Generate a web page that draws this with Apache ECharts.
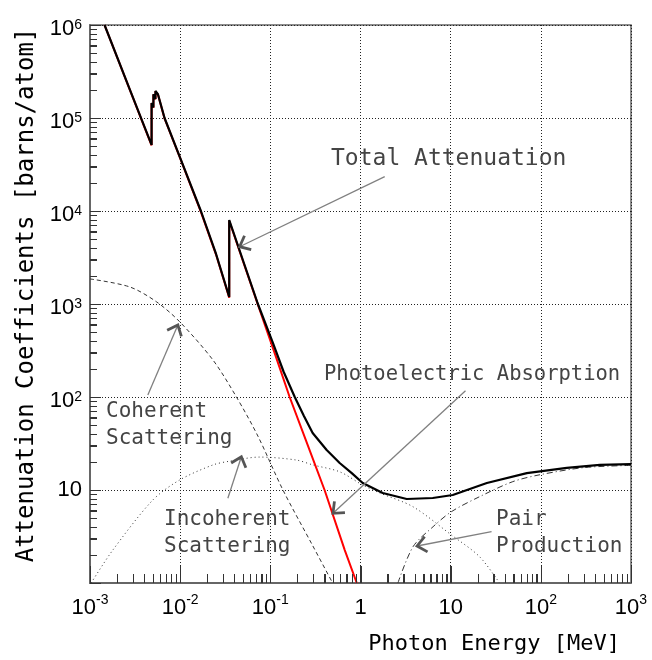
<!DOCTYPE html>
<html><head><meta charset="utf-8">
<script src="https://cdn.jsdelivr.net/npm/echarts@6/dist/echarts.min.js"></script>
<style>html,body{margin:0;padding:0;background:#fff}#c{width:652px;height:660px}</style>
</head><body><div id="c"></div>
<script>
// ---- data (photon energy in MeV, coefficient in barns/atom) ----
const totalEnergy = [0.00145, 0.00274, 0.00482, 0.00482, 0.00505, 0.00505, 0.00532, 0.00532, 0.00567, 0.00671, 0.01, 0.01698, 0.025, 0.035, 0.035, 0.05, 0.0728, 0.106, 0.14, 0.186, 0.235, 0.2947, 0.4215, 0.5875, 0.8, 1.058, 1.764, 3.257, 6.33, 10.55, 25.2, 69.9, 194, 452, 1000];
const totalValue  = [1e6, 2.07e5, 5.13e4, 1.45e5, 1.3e5, 1.8e5, 1.6e5, 1.95e5, 1.8e5, 1.0e5, 3.73e4, 1.0e4, 3.45e3, 1.19e3, 8.0e3, 2.9e3, 1.0e3, 390, 188, 100.7, 63, 41.0, 26.9, 19.5, 15.2, 11.9, 9.29, 8.0, 8.2, 8.83, 11.9, 15.2, 17.3, 18.6, 19.0];

const photoEnergy = [0.00145, 0.00274, 0.00482, 0.00482, 0.00505, 0.00505, 0.00532, 0.00532, 0.00567, 0.00671, 0.01, 0.01698, 0.025, 0.035, 0.035, 0.05, 0.0728, 0.11, 0.1637, 0.25, 0.3995, 0.669, 0.909];
const photoValue  = [1e6, 2.06e5, 5.08e4, 1.44e5, 1.29e5, 1.79e5, 1.59e5, 1.94e5, 1.79e5, 9.9e4, 3.7e4, 9.8e3, 3.4e3, 1.17e3, 7.85e3, 2.85e3, 985, 310, 100, 33.6, 10, 2.26, 1.0];

const coherentEnergy = [0.001, 0.00274, 0.00543, 0.00985, 0.0231, 0.0419, 0.0728, 0.138, 0.295, 0.491];
const coherentValue  = [1860, 1530, 1060, 646, 250, 100.7, 38, 10, 2.52, 1.0];

const incoherentEnergy = [0.00103, 0.00179, 0.00498, 0.00985, 0.0231, 0.0353, 0.0761, 0.1943, 0.297, 0.5875, 1.058, 1.633, 3.83, 10.2, 20.9, 34.8];
const incoherentValue  = [1.0, 2.26, 7.81, 12.8, 18.6, 20.4, 22.6, 21.0, 18.6, 15.7, 11.3, 9.3, 6.6, 3.28, 1.92, 1.0];

const pairEnergy = [2.6, 3.83, 6.38, 10.2, 20.9, 48.9, 98, 300, 1000];
const pairValue  = [1.0, 2.46, 4.03, 5.85, 8.47, 12.3, 14.6, 17.4, 18.4];

// axis ticks: decades and the mantissas of the ticks within a decade
const xTickExponents = [-3, -2, -1, 0, 1, 2, 3];
const yTickExponents = [0, 1, 2, 3, 4, 5, 6];
const tickMantissas = [1, 2, 3, 4, 5, 6, 7, 8, 9];

const annotationTexts = ['Total Attenuation', 'Photoelectric Absorption', 'Coherent\nScattering', 'Incoherent\nScattering', 'Pair\nProduction'];
const xTitle = 'Photon Energy [MeV]';
const yTitle = 'Attenuation Coefficients [barns/atom]';

function zip(a, b) { return a.map((x, i) => [x, b[i]]); }

function xLabel(v) {
  const e = Math.round(Math.log10(v));
  if (xTickExponents.indexOf(e) < 0) return '';
  if (e === 0) return '{xb|1}';
  if (e === 1) return '{xb|10}';
  return '{xb|10}{xs|' + e + '}';
}
function yLabel(v) {
  const e = Math.round(Math.log10(v));
  if (yTickExponents.indexOf(e) < 0 || e === 0) return '';
  if (e === 1) return '{c|10}';
  return '{yb|10}{ys|' + e + '}';
}

const chart = echarts.init(document.getElementById('c'), null, {renderer: 'canvas'});
const LF = 'Liberation Sans, Arial, sans-serif';
const MF = 'DejaVu Sans Mono, monospace';
const X_MIN = 0.001, X_MAX = 1000, Y_MIN = 1, Y_MAX = 1e6;
const TICK_COLOR = '#333';

const option = {
  animation: false,
  backgroundColor: '#fff',
  grid: {left: 90, right: 21, top: 25, bottom: 77, show: true, borderColor: '#666', borderWidth: 1.5},
  xAxis: {
    type: 'log', logBase: 10, min: X_MIN, max: X_MAX,
    axisLine: {show: true, onZero: false, lineStyle: {color: '#666', width: 2}},
    axisTick: {show: true, inside: true, length: 17, lineStyle: {color: TICK_COLOR, width: 1}},
    minorTick: {show: true, splitNumber: 9, length: 9, lineStyle: {color: TICK_COLOR, width: 1}},
    splitLine: {show: true, lineStyle: {color: '#222', width: 1, type: [1, 2]}},
    axisLabel: {
      formatter: xLabel, margin: 10, showMinLabel: true, showMaxLabel: true, color: '#000',
      rich: {
        xb: {fontFamily: LF, fontSize: 22, lineHeight: 26, verticalAlign: 'bottom', color: '#000'},
        xs: {fontFamily: LF, fontSize: 14, lineHeight: 14, verticalAlign: 'top', color: '#000'}
      }
    }
  },
  yAxis: {
    type: 'log', logBase: 10, min: Y_MIN, max: Y_MAX,
    axisLine: {show: true, onZero: false, lineStyle: {color: '#666', width: 2}},
    axisTick: {show: true, inside: true, length: 11, lineStyle: {color: TICK_COLOR, width: 1}},
    minorTick: {show: true, splitNumber: 9, length: 7, lineStyle: {color: TICK_COLOR, width: 1}},
    splitLine: {show: true, lineStyle: {color: '#222', width: 1, type: [1, 2]}},
    axisLabel: {
      formatter: yLabel, margin: 8, showMinLabel: false, showMaxLabel: true, color: '#000',
      rich: {
        yb: {fontFamily: LF, fontSize: 22, lineHeight: 21, verticalAlign: 'bottom', color: '#000'},
        ys: {fontFamily: LF, fontSize: 14, lineHeight: 30, verticalAlign: 'middle', color: '#000'},
        c: {fontFamily: LF, fontSize: 22, lineHeight: 22, color: '#000'}
      }
    }
  },
  series: [
    {type: 'line', name: 'Photoelectric Absorption', data: zip(photoEnergy, photoValue), symbol: 'none', showSymbol: false, clip: true, z: 3,
      lineStyle: {color: '#ff0000', width: 2}},
    {type: 'line', name: 'Total Attenuation', data: zip(totalEnergy, totalValue), symbol: 'none', showSymbol: false, clip: true, z: 4,
      lineStyle: {color: '#000', width: 2.2}},
    {type: 'line', name: 'Coherent Scattering', data: zip(coherentEnergy, coherentValue), symbol: 'none', showSymbol: false, clip: true, smooth: 0.3, z: 2,
      lineStyle: {color: '#333', width: 1, type: [4, 3]}},
    {type: 'line', name: 'Incoherent Scattering', data: zip(incoherentEnergy, incoherentValue), symbol: 'none', showSymbol: false, clip: true, smooth: 0.3, z: 2,
      lineStyle: {color: '#333', width: 1, type: [1, 3]}},
    {type: 'line', name: 'Pair Production', data: zip(pairEnergy, pairValue), symbol: 'none', showSymbol: false, clip: true, smooth: 0.3, z: 2,
      lineStyle: {color: '#333', width: 1, type: [6, 3, 1, 3]}}
  ]
};
chart.setOption(option);

const graphics = [];

// inward log ticks on their own layer, placed through the chart's own scales
xTickExponents.forEach(e => {
  tickMantissas.forEach(m => {
    const v = m * Math.pow(10, e);
    if (v < X_MIN * 0.999 || v > X_MAX * 1.001) return;
    const p = chart.convertToPixel({gridIndex: 0}, [v, Y_MIN]);
    const len = m === 1 ? 17 : 9;
    const x = Math.round(p[0]) + 0.5;
    graphics.push({type: 'line', zlevel: 1, z: 100, shape: {x1: x, y1: p[1], x2: x, y2: p[1] - len}, style: {stroke: TICK_COLOR, lineWidth: 1}});
  });
});
yTickExponents.forEach(e => {
  tickMantissas.forEach(m => {
    const v = m * Math.pow(10, e);
    if (v < Y_MIN * 0.999 || v > Y_MAX * 1.001) return;
    const p = chart.convertToPixel({gridIndex: 0}, [X_MIN, v]);
    const len = m === 1 ? 11 : 7;
    const y = Math.round(p[1]) + 0.5;
    graphics.push({type: 'line', zlevel: 1, z: 100, shape: {x1: p[0], y1: y, x2: p[0] + len, y2: y}, style: {stroke: TICK_COLOR, lineWidth: 1}});
  });
});

// annotation arrows, anchored in data coordinates
const arrows = [
  {from: [1.856, 2.34e4], to: [0.0456, 4.13e3]},
  {from: [14.6, 116.9], to: [0.495, 5.62]},
  {from: [0.00438, 105], to: [0.00943, 595]},
  {from: [0.0338, 8.14], to: [0.0477, 22.8]},
  {from: [28.4, 3.56], to: [4.24, 2.50]}
];
arrows.forEach(a => {
  const p0 = chart.convertToPixel({gridIndex: 0}, a.from);
  const p1 = chart.convertToPixel({gridIndex: 0}, a.to);
  const ang = Math.atan2(p0[1] - p1[1], p0[0] - p1[0]);
  const L = 12, h = 0.7;
  const arm1 = [p1[0] + L * Math.cos(ang + h), p1[1] + L * Math.sin(ang + h)];
  const arm2 = [p1[0] + L * Math.cos(ang - h), p1[1] + L * Math.sin(ang - h)];
  graphics.push({type: 'line', z: 50, shape: {x1: p0[0], y1: p0[1], x2: p1[0], y2: p1[1]}, style: {stroke: '#808080', lineWidth: 1.3}});
  graphics.push({type: 'polyline', z: 51, shape: {points: [arm1, p1, arm2]}, style: {stroke: '#555', lineWidth: 2.8, fill: null, lineJoin: 'miter'}});
});
const textPlaces = [
  {x: 331, y: 159, size: 23},
  {x: 324, y: 374.5, size: 20.5},
  {x: 106, y: 425.5, size: 21},
  {x: 164, y: 533, size: 21},
  {x: 496, y: 533.5, size: 21}
];
annotationTexts.forEach((t, i) => {
  const p = textPlaces[i];
  graphics.push({type: 'text', z: 60, x: p.x, y: p.y, style: {text: t, fill: '#444', fontFamily: MF, fontSize: p.size, lineHeight: 27, align: 'left', verticalAlign: 'middle'}});
});
graphics.push({type: 'text', z: 60, x: 620, y: 644, style: {text: xTitle, fill: '#000', fontFamily: MF, fontSize: 22, align: 'right', verticalAlign: 'middle'}});
graphics.push({type: 'text', z: 60, x: 27, y: 295, rotation: Math.PI / 2, style: {text: yTitle, fill: '#000', fontFamily: MF, fontSize: 24, align: 'center', verticalAlign: 'middle'}});
chart.setOption({graphic: graphics});
</script>
</body></html>
